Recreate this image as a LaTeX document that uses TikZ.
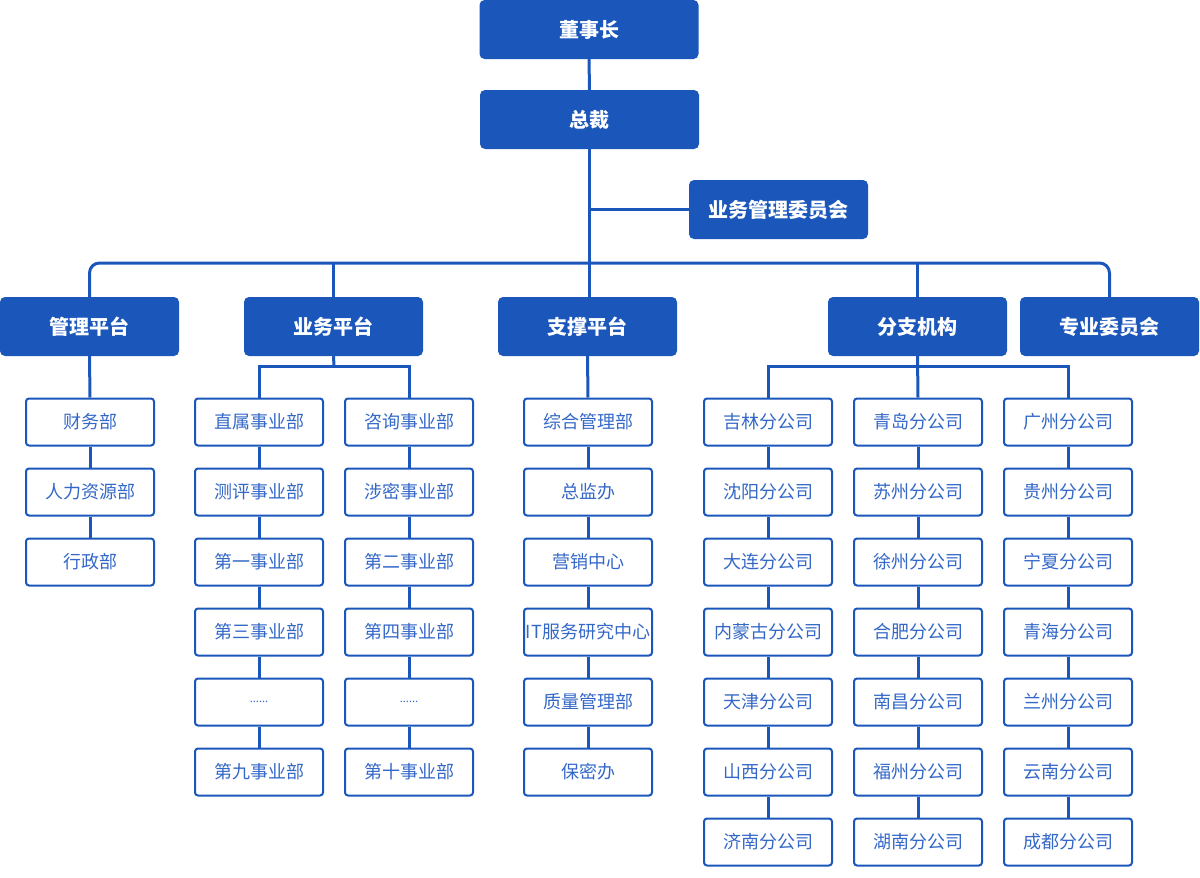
\documentclass[tikz,border=0pt]{standalone}
\usepackage{fontspec}
\setmainfont{Noto Sans CJK SC}
\definecolor{boxblue}{HTML}{1B57BB}
\definecolor{txtblue}{HTML}{3468C8}
\tikzset{
  topbox/.style={draw=none,fill=boxblue,rounded corners=5pt,minimum width=179pt,minimum height=59pt,inner sep=0pt,text=white,font=\fontsize{20}{24}\selectfont\bfseries},
  subbox/.style={draw=boxblue,line width=2pt,fill=white,rounded corners=3pt,minimum width=128pt,minimum height=47pt,inner sep=0pt,text=txtblue,font=\fontsize{18}{21}\selectfont},
  link/.style={draw=boxblue,line width=3pt},
}
\begin{document}
\begin{tikzpicture}[x=1pt,y=-1pt]
\useasboundingbox (0,0) rectangle (1200,878);
% top level
\node[topbox,minimum width=219pt] (ceo) at (589,29.5) {董事长};
\node[topbox,minimum width=219pt] (pres) at (589.5,119.5) {总裁};
\node[topbox] (comm) at (778.5,209.5) {业务管理委员会};
\node[topbox] (mgmt) at (89.5,326.5) {管理平台};
\node[topbox] (biz) at (333.5,326.5) {业务平台};
\node[topbox] (sup) at (587.5,326.5) {支撑平台};
\node[topbox] (br) at (917.5,326.5) {分支机构};
\node[topbox] (prof) at (1109.5,326.5) {专业委员会};
\coordinate (bus) at (589,263);
% sub boxes
\foreach \name/\x/\txt [count=\i] in {m1/90/财务部,m2/90/人力资源部,m3/90/行政部}{
  \node[subbox] (\name) at (\x,{422+70*(\i-1)}) {\txt};}
\foreach \name/\txt [count=\i] in {d1/直属事业部,d2/测评事业部,d3/第一事业部,d4/第三事业部,d5/{\fontsize{11}{12}\selectfont ......},d6/第九事业部}{
  \node[subbox] (\name) at (259,{422+70*(\i-1)}) {\txt};}
\foreach \name/\txt [count=\i] in {e1/咨询事业部,e2/涉密事业部,e3/第二事业部,e4/第四事业部,e5/{\fontsize{11}{12}\selectfont ......},e6/第十事业部}{
  \node[subbox] (\name) at (409,{422+70*(\i-1)}) {\txt};}
\foreach \name/\txt [count=\i] in {s1/综合管理部,s2/总监办,s3/营销中心,s4/IT服务研究中心,s5/质量管理部,s6/保密办}{
  \node[subbox] (\name) at (588,{422+70*(\i-1)}) {\txt};}
\foreach \name/\txt [count=\i] in {a1/吉林分公司,a2/沈阳分公司,a3/大连分公司,a4/内蒙古分公司,a5/天津分公司,a6/山西分公司,a7/济南分公司}{
  \node[subbox] (\name) at (768,{422+70*(\i-1)}) {\txt};}
\foreach \name/\txt [count=\i] in {b1/青岛分公司,b2/苏州分公司,b3/徐州分公司,b4/合肥分公司,b5/南昌分公司,b6/福州分公司,b7/湖南分公司}{
  \node[subbox] (\name) at (918,{422+70*(\i-1)}) {\txt};}
\foreach \name/\txt [count=\i] in {c1/广州分公司,c2/贵州分公司,c3/宁夏分公司,c4/青海分公司,c5/兰州分公司,c6/云南分公司,c7/成都分公司}{
  \node[subbox] (\name) at (1068,{422+70*(\i-1)}) {\txt};}
% connectors top
\draw[link] (ceo.south) -- (pres.north);
\draw[link] (pres.south) -- (sup.north -| pres.south);
\draw[link] (pres.south |- comm.west) -- (comm.west);
\draw[link,rounded corners=10pt] (mgmt.north) |- (bus) -| (prof.north);
\draw[link] (biz.north) -- (biz.north |- bus);
\draw[link] (br.north) -- (br.north |- bus);
% sub connectors
\draw[link] (mgmt.south) -- (m1.north);
\draw[link] (m1) -- (m2) (m2) -- (m3);
\coordinate (bb) at (334,366);
\draw[link] (biz.south) -- (bb);
\draw[link] (d1.north) |- (bb) -| (e1.north);
\draw[link] (d1) -- (d2) (d2) -- (d3) (d3) -- (d4) (d4) -- (d5) (d5) -- (d6);
\draw[link] (e1) -- (e2) (e2) -- (e3) (e3) -- (e4) (e4) -- (e5) (e5) -- (e6);
\draw[link] (sup.south) -- (s1.north);
\draw[link] (s1) -- (s2) (s2) -- (s3) (s3) -- (s4) (s4) -- (s5) (s5) -- (s6);
\coordinate (bc) at (918,366);
\draw[link] (br.south) -- (b1.north);
\draw[link] (a1.north) |- (bc) -| (c1.north);
\draw[link] (a1) -- (a2) (a2) -- (a3) (a3) -- (a4) (a4) -- (a5) (a5) -- (a6) (a6) -- (a7);
\draw[link] (b1) -- (b2) (b2) -- (b3) (b3) -- (b4) (b4) -- (b5) (b5) -- (b6) (b6) -- (b7);
\draw[link] (c1) -- (c2) (c2) -- (c3) (c3) -- (c4) (c4) -- (c5) (c5) -- (c6) (c6) -- (c7);
\end{tikzpicture}
\end{document}
